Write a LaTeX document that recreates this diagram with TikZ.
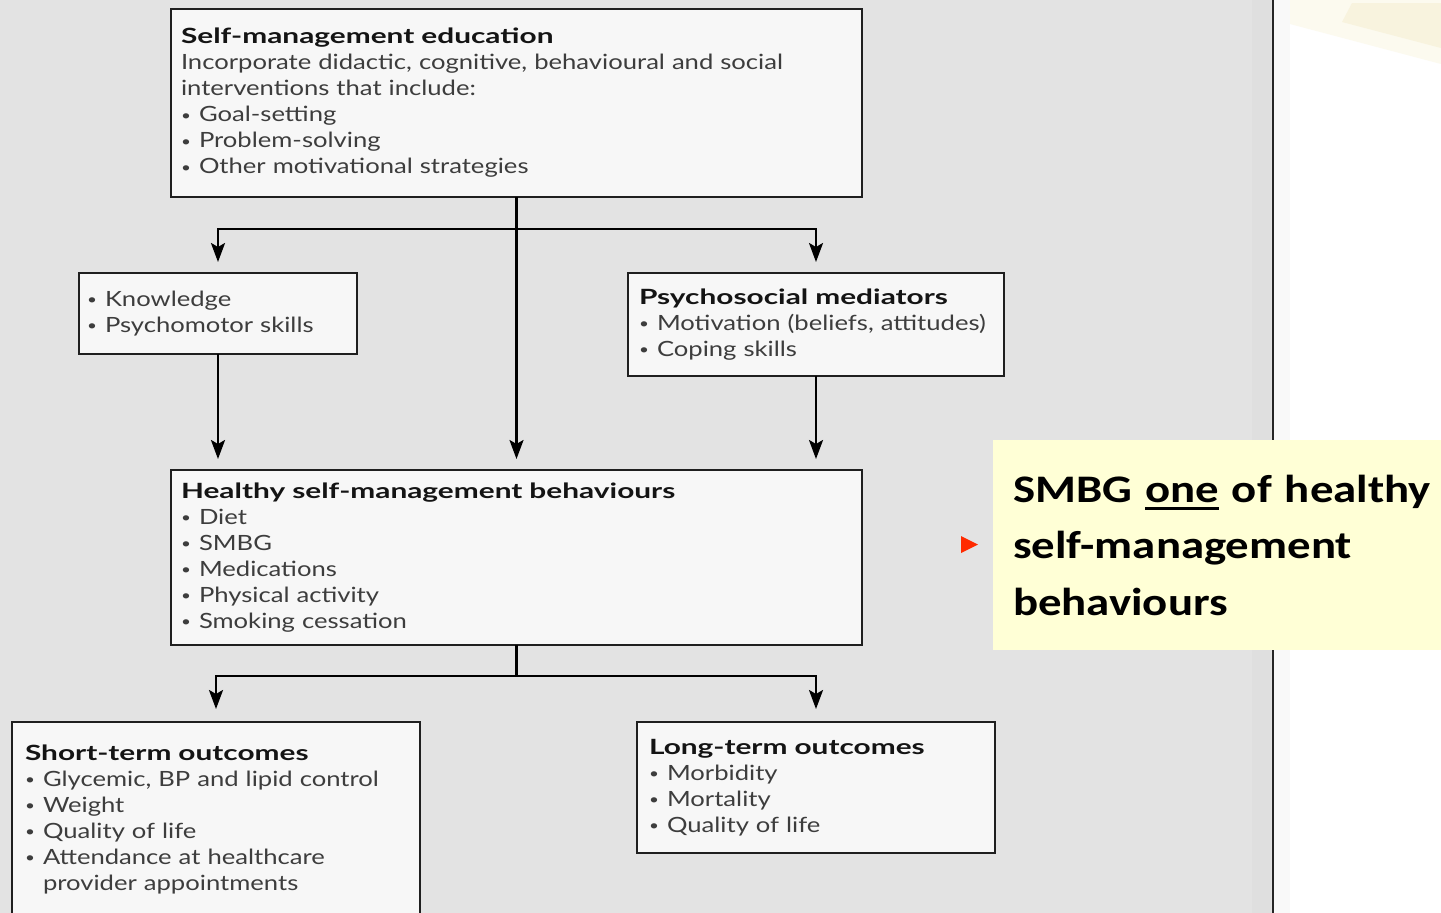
\documentclass[tikz,border=0pt]{standalone}
\usepackage{fontspec}
\setmainfont{Lato}[FakeStretch=1.22]
\newfontfamily\headfont{Lato}[FakeStretch=1.42]
\newfontfamily\callfont{Carlito}[FakeStretch=1.2]
\usetikzlibrary{arrows.meta,calc}

\definecolor{pagegray}{HTML}{E3E3E3}
\definecolor{edgegray}{HTML}{DFDFDF}
\definecolor{sidewhite}{HTML}{F9F9F9}
\definecolor{boxfill}{HTML}{F7F7F7}
\definecolor{bodytext}{HTML}{3D3D3D}
\definecolor{headtext}{HTML}{141414}
\definecolor{notefill}{HTML}{FFFFD6}
\definecolor{markred}{HTML}{FF2A00}
\definecolor{creamlight}{HTML}{FCFAEF}
\definecolor{cream}{HTML}{F8F3DE}

% bullet item with a fixed indent
\newcommand\itm{\makebox[18pt][l]{\raisebox{1.5pt}{\fontsize{14}{14}\selectfont\textbullet}}}
\newcommand\hd[1]{{\headfont\bfseries\color{headtext}#1}}
% thick underline for a single word
\newcommand\ulword[1]{\setbox0=\hbox{#1}\rlap{\rule[-8pt]{\wd0}{2.6pt}}\box0\relax}

\begin{document}
\begin{tikzpicture}[x=1pt,y=-1pt,
  box/.style={draw=black!88, line width=2pt, fill=boxfill, anchor=north west,
    outer sep=0pt, inner ysep=0pt, align=left, text=bodytext,
    font=\fontsize{21}{26}\selectfont},
  link/.style={line width=2.4pt},
  arr/.style={line width=2.4pt, -{Stealth[length=19pt,width=14pt,inset=4pt]}},
  note/.style={fill=notefill, anchor=north west, align=left, inner ysep=0pt,
    outer sep=0pt, inner xsep=20pt,
    font=\callfont\bfseries\fontsize{39}{56.5}\selectfont}]

\useasboundingbox (0,0) rectangle (1441,913);

% page background
\fill[pagegray] (0,0) rectangle (1273,913);
\fill[edgegray] (1252,0) rectangle (1271,913);
\fill[white] (1273,0) rectangle (1441,913);
\fill[sidewhite] (1273,0) rectangle (1290,913);
\fill[creamlight] (1290,0) -- (1441,0) -- (1441,64) -- (1290,24) -- cycle;
\fill[cream] (1352,3) -- (1441,3) -- (1441,48) -- (1342,22) -- cycle;
\draw[line width=2.6pt, black!85] (1273,0) -- (1273,913);

% boxes
\node[box, text width=671pt, inner xsep=10pt, minimum height=188pt] (edu) at (171,9)
  {\hd{Self-management education}\\
   Incorporate didactic, cognitive, behavioural and social\\
   interventions that include:\\
   \itm Goal-setting\\
   \itm Problem-solving\\
   \itm Other motivational strategies};

\node[box, text width=262pt, inner xsep=8pt, minimum height=81pt] (know) at (79,273)
  {\itm Knowledge\\
   \itm Psychomotor skills};

\node[box, text width=354pt, inner xsep=11pt, minimum height=103pt] (psych) at (628,273)
  {\hd{Psychosocial mediators}\\
   \itm Motivation (beliefs, attitudes)\\
   \itm Coping skills};

\node[box, text width=671pt, inner xsep=10pt, minimum height=175pt] (healthy) at (171,470)
  {\hd{Healthy self-management behaviours}\\
   \itm Diet\\
   \itm SMBG\\
   \itm Medications\\
   \itm Physical activity\\
   \itm Smoking cessation};

\node[box, text width=382pt, inner xsep=13pt, minimum height=194pt] (short) at (12,722)
  {\hd{Short-term outcomes}\\
   \itm Glycemic, BP and lipid control\\
   \itm Weight\\
   \itm Quality of life\\
   \itm Attendance at healthcare\\
   \hspace*{18pt}provider appointments};

\node[box, text width=334pt, inner xsep=12pt, minimum height=131pt] (long) at (637,722)
  {\hd{Long-term outcomes}\\
   \itm Morbidity\\
   \itm Mortality\\
   \itm Quality of life};

% connectors
\coordinate (fork1) at ($(edu.south)+(0,32)$);
\coordinate (fork2) at ($(healthy.south)+(0,31)$);
\draw[arr, shorten >=11pt] (edu) -- (healthy);
\draw[arr, shorten >=11pt] (fork1) -| (know.north);
\draw[arr, shorten >=11pt] (fork1) -| (psych.north);
\draw[arr, shorten >=11pt] (know.south) -- (know.south |- healthy.north);
\draw[arr, shorten >=11pt] (psych.south) -- (psych.south |- healthy.north);
\draw[link] (healthy.south) -- (fork2);
\draw[arr, shorten >=13pt] (fork2) -| (short.north);
\draw[arr, shorten >=13pt] (fork2) -| (long.north);

% call-out note
\fill[markred] (961,536) -- (978,544.5) -- (961,553) -- cycle;
\node[note, text width=440pt, minimum height=210pt] (callout) at (993,440)
  {SMBG \ulword{one} of healthy\\
   self-management\\
   behaviours};

\end{tikzpicture}
\end{document}
